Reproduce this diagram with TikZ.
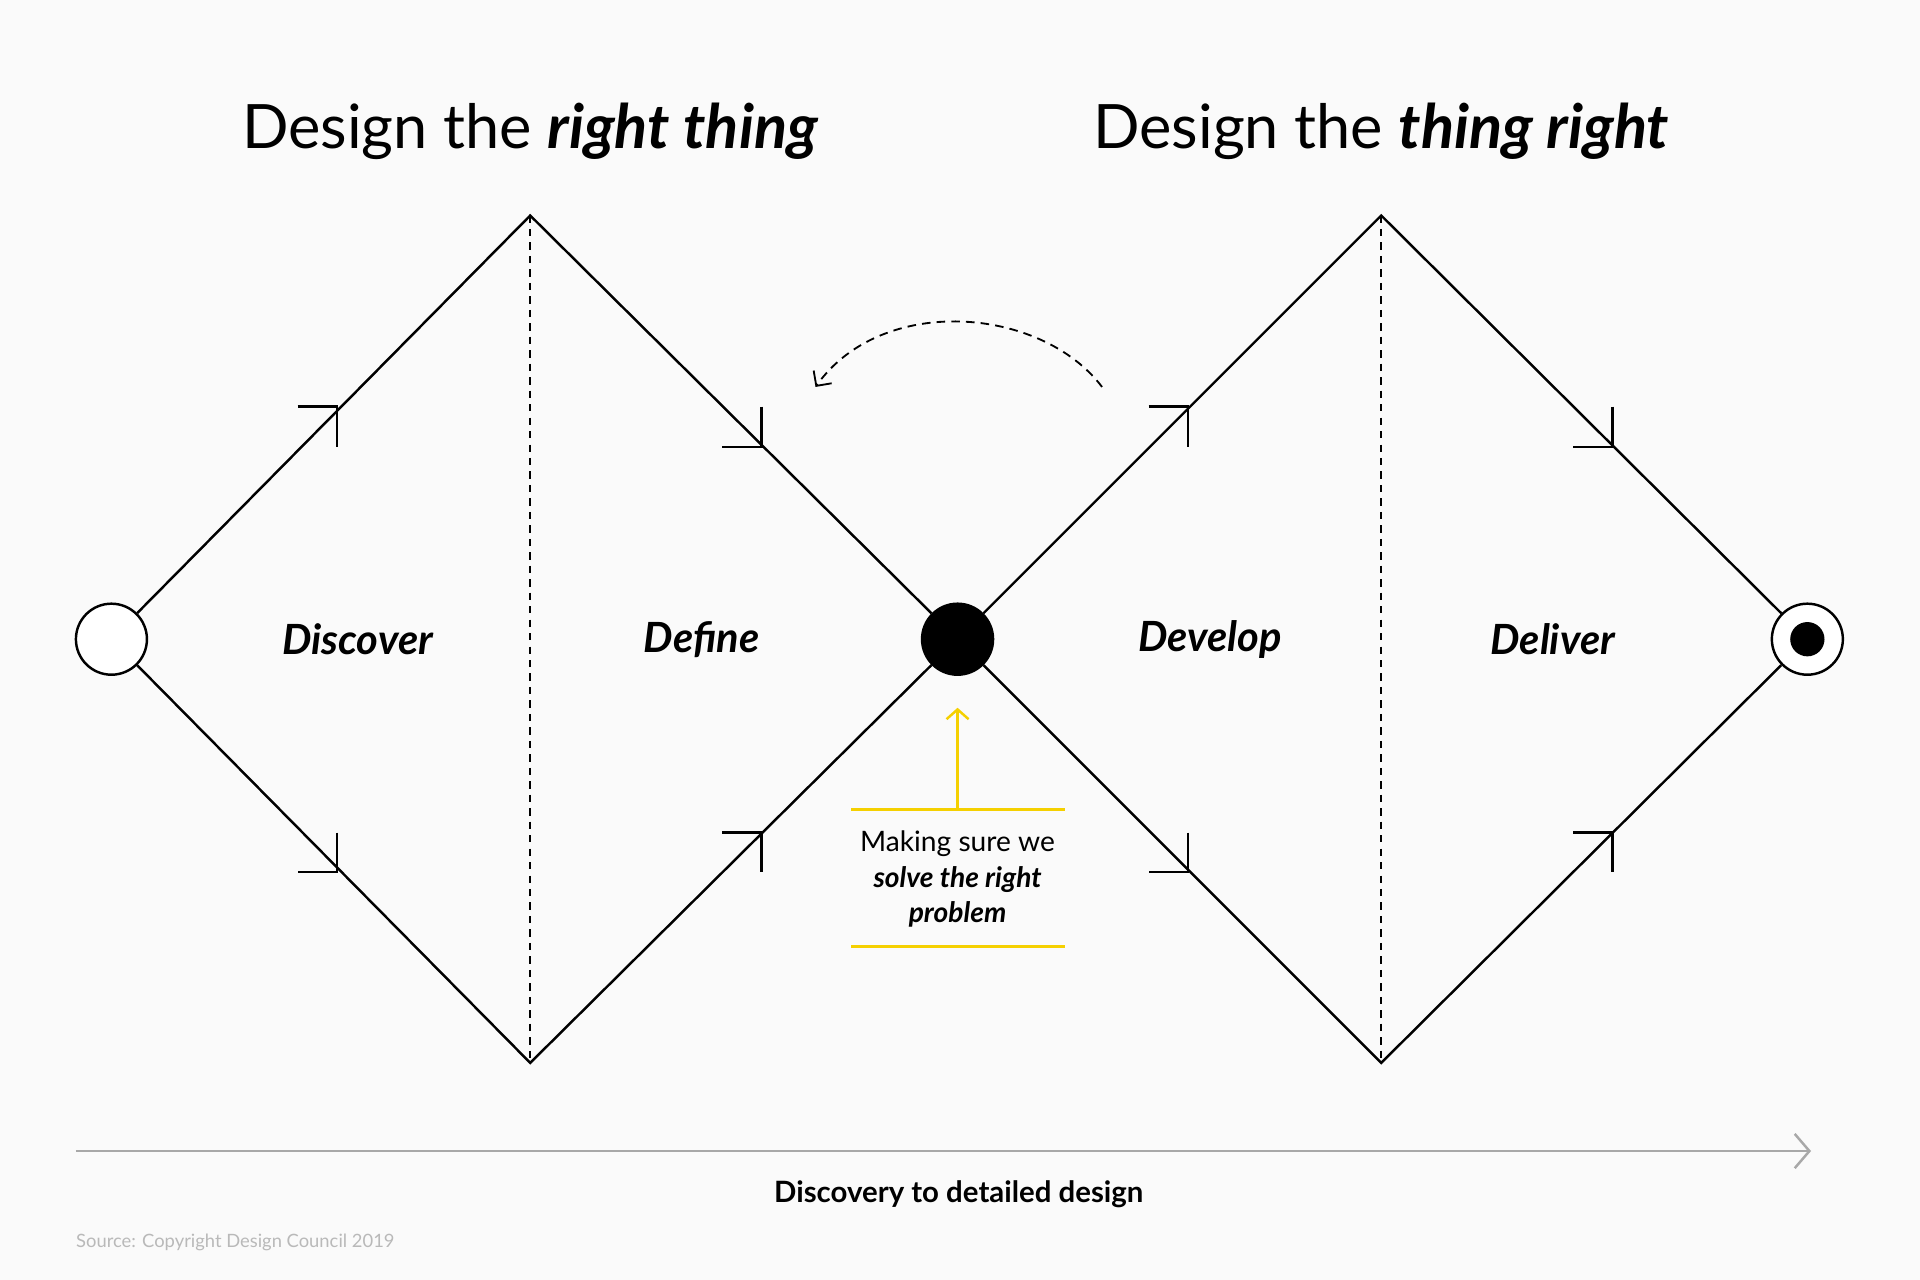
\documentclass[tikz,border=0pt]{standalone}
\usepackage{fontspec}
\setmainfont{Lato}
\usetikzlibrary{arrows.meta}
\definecolor{ylw}{HTML}{F5D000}
\definecolor{gry}{HTML}{A8A8A8}
\begin{document}
\begin{tikzpicture}[x=1pt,y=-1pt,
  edge/.style={line width=2pt,black},
  tick/.style={line width=2pt,black},
  lbl/.style={font=\fontsize{34}{40}\selectfont\bfseries\itshape},
  ttl/.style={font=\fontsize{50}{58}\selectfont},
  dot/.style={circle,draw,line width=2pt,minimum size=58pt,inner sep=0pt}]
\fill[white!98!black] (0,0) rectangle (1568,1045);
\useasboundingbox (0,0) rectangle (1568,1045);
% circles
\node[dot,fill=white] (s) at (91,522) {};
\node[dot,fill=black] (m) at (782,522) {};
\node[dot,fill=white] (e) at (1476,522) {};
\node[circle,fill=black,minimum size=28pt,inner sep=0pt] (ei) at (1476,522) {};
% vertices
\coordinate (t1) at (433,176); \coordinate (b1) at (433,868);
\coordinate (t2) at (1128,176); \coordinate (b2) at (1128,868);
\draw[edge] (s) -- (t1) -- (m) -- (t2) -- (e);
\draw[edge] (s) -- (b1) -- (m) -- (b2) -- (e);
\draw[line width=1.5pt,dashed,dash pattern=on 6pt off 5pt] (t1) -- (b1);
\draw[line width=1.5pt,dashed,dash pattern=on 6pt off 5pt] (t2) -- (b2);
% ticks
\foreach \dx in {0,695}{
  \draw[tick] ([xshift=\dx]243,332) -- ([xshift=\dx]275,332) -- ([xshift=\dx]275,365);
  \draw[tick] ([xshift=\dx]622,332) -- ([xshift=\dx]622,365) -- ([xshift=\dx]590,365);
  \draw[tick] ([xshift=\dx]275,680) -- ([xshift=\dx]275,712) -- ([xshift=\dx]243,712);
  \draw[tick] ([xshift=\dx]590,680) -- ([xshift=\dx]622,680) -- ([xshift=\dx]622,712);
}
% dashed return arc
\coordinate (a1) at (900,316); \coordinate (a2) at (666,316);
\draw[line width=1.5pt,dash pattern=on 7pt off 5pt,-{Straight Barb[length=9pt,width=18pt,line width=1.5pt]}]
  (a1) .. controls (850,250) and (720,240) .. (a2);
% labels
\node[lbl] (l1) at (292,522) {Discover};
\node[lbl] (l2) at (573,522) {Define};
\node[lbl] (l3) at (988,522) {Develop};
\node[lbl] (l4) at (1268,522) {Deliver};
\node[ttl] (h1) at (433,107) {Design the \textbf{\textit{right thing}}};
\node[ttl] (h2) at (1128,107) {Design the \textbf{\textit{thing right}}};
% yellow note
\coordinate (y0) at (782,661);
\draw[ylw,line width=2pt] (695,661) -- (870,661);
\draw[ylw,line width=2pt] (695,773) -- (870,773);
\draw[ylw,line width=2pt,-{Straight Barb[length=8pt,width=18pt,line width=2pt]}] (y0) -- (782,578);
\node[align=center,font=\fontsize{23}{29}\selectfont] (note) at (782,718)
  {Making sure we\\\textbf{\textit{solve the right}}\\\textbf{\textit{problem}}};
% bottom axis
\coordinate (x0) at (62,940); \coordinate (x1) at (1479,940);
\draw[gry,line width=2pt,-{Straight Barb[length=12pt,width=28pt,line width=2pt]}] (x0) -- (x1);
\node[font=\fontsize{24}{28}\selectfont\bfseries] (ax) at (783,975) {Discovery to detailed design};
\node[anchor=west,text=gry!80,font=\fontsize{15}{18}\selectfont,inner sep=0pt] (src) at (62,1015) {Source: Copyright Design Council 2019};
\end{tikzpicture}
\end{document}
